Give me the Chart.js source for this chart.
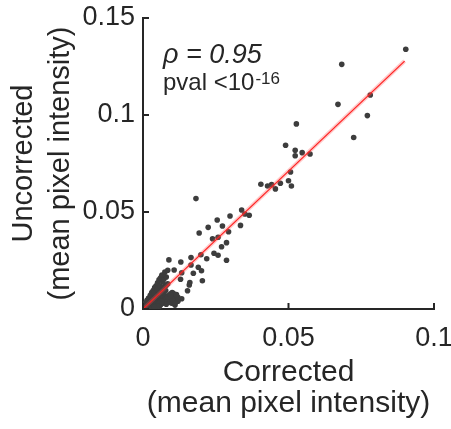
<!DOCTYPE html>
<html>
<head>
<meta charset="utf-8">
<script src="https://cdn.jsdelivr.net/npm/chart.js@4"></script>
<style>
  html, body { margin: 0; padding: 0; background: #fff; }
  #wrap { width: 451px; height: 429px; position: relative; }
</style>
</head>
<body>
<div id="wrap"><canvas id="c"></canvas></div>
<script>
// ---- data ----
const corrected = [
  0.0903, 0.0683, 0.0670, 0.0781, 0.0771, 0.0724, 0.0527, 0.0490, 0.0523, 0.0523,
  0.0547, 0.0574, 0.0507, 0.0500, 0.0510, 0.0472, 0.0442, 0.0428, 0.0455, 0.0405,
  0.0182, 0.0339, 0.0350, 0.0365, 0.0299, 0.0255, 0.0273, 0.0335, 0.0224, 0.0294,
  0.0193, 0.0258, 0.0239, 0.0287, 0.0270, 0.0199, 0.0244, 0.0258, 0.0219, 0.0287,
  0.0165, 0.0130, 0.0089, 0.0165, 0.0190, 0.0107, 0.0201, 0.0173, 0.0133, 0.0204,
  0.0161, 0.0159, 0.0129, 0.0064, 0.0153, 0.0133, 0.0104, 0.0104, 0.0118, 0.0112,
  // cluster near origin
  0.0010, 0.0015, 0.0020, 0.0025, 0.0030, 0.0035, 0.0040, 0.0045, 0.0050, 0.0055,
  0.0060, 0.0065, 0.0070, 0.0075, 0.0080, 0.0085, 0.0012, 0.0018, 0.0024, 0.0030,
  0.0036, 0.0042, 0.0048, 0.0054, 0.0060, 0.0066, 0.0072, 0.0078, 0.0005, 0.0008,
  0.0016, 0.0022, 0.0028, 0.0034, 0.0040, 0.0046, 0.0052, 0.0058, 0.0064, 0.0070,
  0.0076, 0.0082, 0.0090, 0.0095, 0.0100, 0.0003, 0.0007, 0.0011, 0.0014, 0.0019,
  0.0026, 0.0033, 0.0038, 0.0044, 0.0050, 0.0056, 0.0062, 0.0068, 0.0074, 0.0085,
  0.0092, 0.0098, 0.0105, 0.0110, 0.0120, 0.0045, 0.0055, 0.0030, 0.0020, 0.0010,
  0.0060, 0.0070, 0.0080, 0.0090, 0.0100, 0.0110, 0.0075, 0.0065, 0.0055, 0.0050,
  0.0040, 0.0085, 0.0095, 0.0120, 0.0115, 0.0020, 0.0025, 0.0030, 0.0035, 0.0040,
  0.0045, 0.0050, 0.0055, 0.0060, 0.0015, 0.0028, 0.0038, 0.0048, 0.0058, 0.0068,
  0.0072, 0.0080, 0.0065, 0.0075, 0.0085
];
const uncorrected = [
  0.1339, 0.1261, 0.1055, 0.1103, 0.0997, 0.0884, 0.0954, 0.0844, 0.0818, 0.0790,
  0.0806, 0.0799, 0.0706, 0.0661, 0.0634, 0.0648, 0.0641, 0.0634, 0.0619, 0.0643,
  0.0569, 0.0510, 0.0490, 0.0483, 0.0479, 0.0459, 0.0428, 0.0431, 0.0421, 0.0398,
  0.0392, 0.0370, 0.0362, 0.0342, 0.0321, 0.0280, 0.0287, 0.0277, 0.0259, 0.0251,
  0.0265, 0.0242, 0.0253, 0.0227, 0.0215, 0.0201, 0.0197, 0.0184, 0.0187, 0.0146,
  0.0136, 0.0124, 0.0153, 0.0167, 0.0094, 0.0053, 0.0081, 0.0029, 0.0045, 0.0062,
  // cluster near origin
  0.0020, 0.0035, 0.0040, 0.0050, 0.0055, 0.0065, 0.0070, 0.0078, 0.0085, 0.0090,
  0.0100, 0.0105, 0.0110, 0.0118, 0.0122, 0.0130, 0.0008, 0.0015, 0.0022, 0.0028,
  0.0035, 0.0042, 0.0050, 0.0058, 0.0062, 0.0075, 0.0082, 0.0095, 0.0010, 0.0030,
  0.0012, 0.0018, 0.0012, 0.0020, 0.0026, 0.0030, 0.0036, 0.0042, 0.0048, 0.0052,
  0.0060, 0.0066, 0.0070, 0.0078, 0.0085, 0.0004, 0.0012, 0.0025, 0.0045, 0.0055,
  0.0060, 0.0068, 0.0055, 0.0032, 0.0020, 0.0028, 0.0038, 0.0045, 0.0035, 0.0040,
  0.0050, 0.0030, 0.0035, 0.0020, 0.0040, 0.0015, 0.0010, 0.0005, 0.0003, 0.0001,
  0.0020, 0.0030, 0.0025, 0.0035, 0.0050, 0.0030, 0.0050, 0.0040, 0.0030, 0.0015,
  0.0010, 0.0060, 0.0070, 0.0060, 0.0075, 0.0055, 0.0070, 0.0085, 0.0095, 0.0110,
  0.0120, 0.0135, 0.0150, 0.0160, 0.0045, 0.0060, 0.0080, 0.0100, 0.0120, 0.0140,
  0.0155, 0.0165, 0.0175, 0.0190, 0.0200
];
const fitX = [0, 0.0899];
const fitY = [0, 0.1278];
const xTicks = [0, 0.05, 0.1];
const yTicks = [0, 0.05, 0.1, 0.15];
const xTickLabels = ["0", "0.05", "0.1"];
const yTickLabels = ["0", "0.05", "0.1", "0.15"];

const INK = "#262626";
const FONT = "'Liberation Sans', Arial, sans-serif";

// inward MATLAB-style tick marks + stats text
const decor = {
  id: "decor",
  afterDraw(chart) {
    const { ctx, chartArea: a, scales: { x, y } } = chart;
    ctx.save();
    ctx.strokeStyle = INK;
    ctx.lineWidth = 2;
    xTicks.forEach((v) => {
      const px = x.getPixelForValue(v);
      ctx.beginPath(); ctx.moveTo(px, a.bottom); ctx.lineTo(px, a.bottom - 6); ctx.stroke();
    });
    yTicks.forEach((v) => {
      const py = y.getPixelForValue(v);
      ctx.beginPath(); ctx.moveTo(a.left, py); ctx.lineTo(a.left + 6, py); ctx.stroke();
    });
    ctx.fillStyle = INK;
    ctx.textBaseline = "alphabetic";
    ctx.textAlign = "left";
    ctx.font = "italic 27px " + FONT;
    ctx.fillText("\u03C1 = 0.95", a.left + 20, 63);
    ctx.font = "24px " + FONT;
    const base = "pval <10";
    ctx.fillText(base, a.left + 20, 90);
    const w = ctx.measureText(base).width;
    ctx.font = "17px " + FONT;
    ctx.fillText("-16", a.left + 20 + w + 1, 84);
    ctx.restore();
  },
};

new Chart(document.getElementById("c"), {
  type: "scatter",
  data: {
    datasets: [
      {
        label: "fit halo",
        type: "line",
        data: fitX.map((v, i) => ({ x: v, y: fitY[i] })),
        borderColor: "rgba(255,80,80,0.3)",
        borderWidth: 4,
        pointRadius: 0,
        order: 0,
      },
      {
        label: "fit",
        type: "line",
        data: fitX.map((v, i) => ({ x: v, y: fitY[i] })),
        borderColor: "#ff2020",
        borderWidth: 1.2,
        pointRadius: 0,
        order: -1,
      },
      {
        label: "pixels",
        data: corrected.map((v, i) => ({ x: v, y: uncorrected[i] })),
        backgroundColor: "#3d3d3d",
        borderWidth: 0,
        pointRadius: 2.8,
        order: 1,
      },
    ],
  },
  options: {
    responsive: true,
    maintainAspectRatio: false,
    animation: false,
    layout: { padding: { top: 18, right: 17, left: 0, bottom: 0 } },
    plugins: { legend: { display: false }, tooltip: { enabled: false } },
    scales: {
      x: {
        type: "linear", min: 0, max: 0.1,
        afterBuildTicks: (s) => { s.ticks = xTicks.map((v) => ({ value: v })); },
        afterFit: (s) => { s.height = 120; s.paddingLeft = 0; s.paddingRight = 0; },
        ticks: {
          color: INK, font: { family: FONT, size: 27 }, padding: 13, maxRotation: 0,
          callback: (v) => xTickLabels[xTicks.indexOf(v)],
        },
        grid: { display: false, tickLength: 0 },
        border: { color: INK, width: 2 },
        title: {
          display: true, text: ["Corrected", "(mean pixel intensity)"],
          color: INK, font: { family: FONT, size: 30, lineHeight: 1.033 },
          padding: { top: 0, bottom: 10 },
        },
      },
      y: {
        type: "linear", min: 0, max: 0.15,
        afterBuildTicks: (s) => { s.ticks = yTicks.map((v) => ({ value: v })); },
        afterFit: (s) => { s.width = 143; s.paddingTop = 0; s.paddingBottom = 0; },
        ticks: {
          color: INK, font: { family: FONT, size: 27 }, padding: 8,
          callback: (v) => yTickLabels[yTicks.indexOf(v)],
        },
        grid: { display: false, tickLength: 0 },
        border: { color: INK, width: 2 },
        title: {
          display: true, text: ["Uncorrected", "(mean pixel intensity)"],
          color: INK, font: { family: FONT, size: 29, lineHeight: 1.276 },
          padding: { top: 5, bottom: 0 },
        },
      },
    },
  },
  plugins: [decor],
});
</script>
</body>
</html>
